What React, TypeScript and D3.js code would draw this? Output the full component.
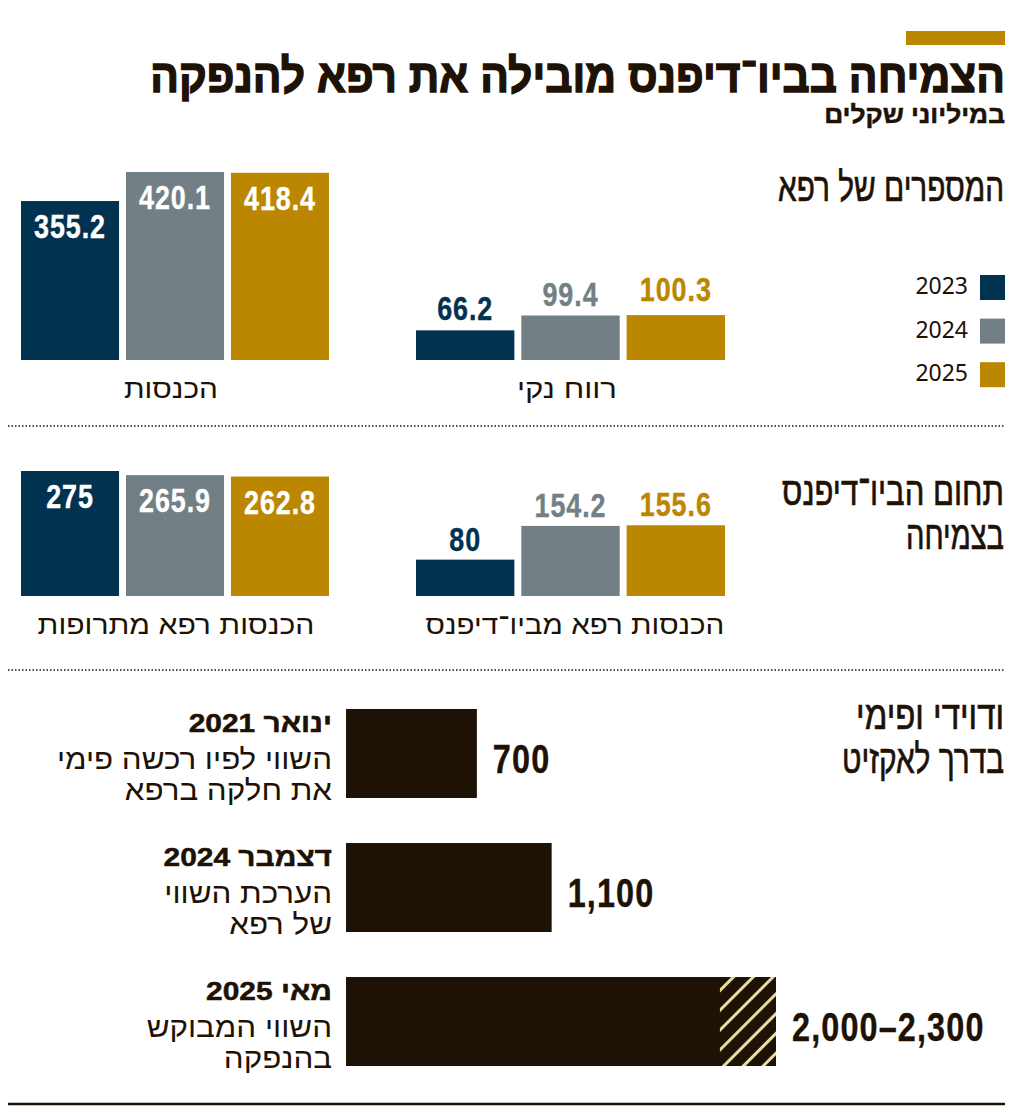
import React from 'react';
import * as d3 from 'd3';

const years = ['2023', '2024', '2025'];
const yearColors = ['#01324f', '#728085', '#bb8700'];

const revenue = [355.2, 420.1, 418.4];
const netProfit = [66.2, 99.4, 100.3];
const drugRevenue = [275, 265.9, 262.8];
const bioRevenue = [80, 154.2, 155.6];

const valuationLow = [700, 1100, 2000];
const valuationHigh = [700, 1100, 2300];
const valuationLabels = ['700', '1,100', '2,000–2,300'];
const valuationDates = ['ינואר 2021', 'דצמבר 2024', 'מאי 2025'];
const valuationLine1 = ['השווי לפיו רכשה פימי', 'הערכת השווי', 'השווי המבוקש'];
const valuationLine2 = ['את חלקה ברפא', 'של רפא', 'בהנפקה'];

const DARK = '#1e1105';
const HEB = '"Liberation Sans", "DejaVu Sans", sans-serif';

const topScale = d3.scaleLinear().domain([0, 420.1]).range([0, 188]);
const midScale = d3.scaleLinear().domain([0, 275]).range([0, 125]);
const xScale = d3.scaleLinear().domain([0, 2300]).range([346, 776]);
const rowScale = d3.scaleBand<number>().domain([0, 1, 2]).range([709, 1066]).paddingInner(0.336).paddingOuter(0);

const ctx = document.createElement('canvas').getContext('2d')!;
const squeeze = (text: string, size: number, weight: number, width: number) => {
  ctx.font = `${weight} ${size}px ${HEB}`;
  return width / ctx.measureText(text).width;
};

// hebrew line, scaled in x so it fills the width seen in the reference
const Heb = ({ x, y, size, width, sx, weight = 400, anchor = 'start', stroke = 0, children }: any) => {
  const k = sx ?? squeeze(children, size, weight, width);
  return (
    <text
      transform={`translate(${x},${y}) scale(${k},1)`}
      direction="rtl"
      textAnchor={anchor}
      fontFamily={HEB}
      fontSize={size}
      fontWeight={weight}
      fill={DARK}
      stroke={stroke ? DARK : 'none'}
      strokeWidth={stroke}
    >
      {children}
    </text>
  );
};

const Num = ({ x, y, size, anchor = 'middle', fill, children }: any) => (
  <text
    transform={`translate(${x},${y}) scale(0.79,1)`}
    textAnchor={anchor}
    fontFamily={HEB}
    fontWeight={700}
    fontSize={size}
    letterSpacing={size * 0.035}
    fill={fill}
    stroke={fill}
    strokeWidth={0.4}
  >
    {children}
  </text>
);

const BarGroup = ({ values, scale, x0, x1, base, inside, lift = [0, 0, 0], label, labelWidth, labelY, labelX }: any) => {
  const band = d3.scaleBand<number>().domain([0, 1, 2]).range([x0, x1]).paddingInner(0.066);
  return (
    <g>
      {values.map((v: number, i: number) => {
        const h = scale(v);
        const cx = band(i)! + band.bandwidth() / 2;
        return (
          <g key={i}>
            <rect x={band(i)} y={base - h} width={band.bandwidth()} height={h} fill={yearColors[i]} />
            <Num x={cx} y={inside ? base - h + 37 : base - h - 9 - lift[i]} size={34} fill={inside ? '#fff' : yearColors[i]}>
              {v}
            </Num>
          </g>
        );
      })}
      <Heb x={labelX} y={labelY} size={26} width={labelWidth} anchor="middle">
        {label}
      </Heb>
    </g>
  );
};

export default function App() {
  return (
    <svg
      width={1024}
      height={1113}
      viewBox="0 0 1024 1113"
      style={{ position: 'absolute', left: 0, top: 0, background: '#fff' }}
    >
      <defs>
        <pattern id="hatch" width={14} height={14} patternUnits="userSpaceOnUse" patternTransform="rotate(45 720 977)">
          <rect x={0} y={0} width={3} height={14} fill="#e9dca0" />
        </pattern>
      </defs>

      <rect x={906} y={31} width={99} height={14} fill="#bb8700" />
      <Heb x={1005} y={92} size={47} width={855} weight={700} stroke={1.4}>
        הצמיחה בביו־דיפנס מובילה את רפא להנפקה
      </Heb>
      <Heb x={1005} y={123} size={25} width={181} weight={700} stroke={0.5}>
        במיליוני שקלים
      </Heb>

      <Heb x={1004} y={201} size={40} width={226} stroke={0.7}>
        המספרים של רפא
      </Heb>
      <Heb x={1004} y={505} size={40} width={222} stroke={0.7}>
        תחום הביו־דיפנס
      </Heb>
      <Heb x={1004} y={549} size={40} width={98} stroke={0.7}>
        בצמיחה
      </Heb>
      <Heb x={1004} y={729} size={40} width={148} stroke={0.7}>
        ודוידי ופימי
      </Heb>
      <Heb x={1004} y={773} size={40} width={162} stroke={0.7}>
        בדרך לאקזיט
      </Heb>

      {years.map((y, i) => (
        <g key={y}>
          <rect x={980} y={275 + i * 43.6} width={25} height={25} fill={yearColors[i]} />
          <text x={968} y={294 + i * 43.6} textAnchor="end" fontFamily={'"Noto Sans", sans-serif'} fontSize={23} fill={DARK}>
            {y}
          </text>
        </g>
      ))}

      <BarGroup values={revenue} scale={topScale} x0={21} x1={329} base={360} inside label="הכנסות" labelX={171} labelY={398} labelWidth={94} />
      <BarGroup values={netProfit} scale={topScale} x0={416} x1={725} base={360} lift={[1, 1, 5]} label="רווח נקי" labelX={567} labelY={398} labelWidth={100} />
      <BarGroup values={drugRevenue} scale={midScale} x0={21} x1={329} base={596} inside label="הכנסות רפא מתרופות" labelX={176} labelY={634} labelWidth={277} />
      <BarGroup values={bioRevenue} scale={midScale} x0={416} x1={725} base={596} label="הכנסות רפא מביו־דיפנס" labelX={575} labelY={634} labelWidth={299} />

      <line x1={8} x2={1005} y1={426} y2={426} stroke={DARK} strokeWidth={1.5} strokeDasharray="1.5 2" />
      <line x1={8} x2={1005} y1={670} y2={670} stroke={DARK} strokeWidth={1.5} strokeDasharray="1.5 2" />

      {valuationHigh.map((v, i) => {
        const top = rowScale(i)!;
        const h = rowScale.bandwidth();
        const solid = xScale(valuationLow[i]);
        const end = xScale(v);
        return (
          <g key={i}>
            <rect x={xScale(0)} y={top} width={end - xScale(0)} height={h} fill={DARK} />
            {end > solid && <rect x={solid} y={top} width={end - solid} height={h} fill="url(#hatch)" />}
            <Num x={end + 16} y={top + 64} size={41} anchor="start" fill={DARK}>
              {valuationLabels[i]}
            </Num>
            <Heb x={332} y={top + 23} size={26} sx={1.15} weight={700} stroke={0.5}>
              {valuationDates[i]}
            </Heb>
            <Heb x={332} y={top + 60} size={29} sx={1.08}>
              {valuationLine1[i]}
            </Heb>
            <Heb x={332} y={top + 91} size={29} sx={1.08}>
              {valuationLine2[i]}
            </Heb>
          </g>
        );
      })}

      <line x1={8} x2={1005} y1={1104} y2={1104} stroke={DARK} strokeWidth={2.5} />
    </svg>
  );
}
